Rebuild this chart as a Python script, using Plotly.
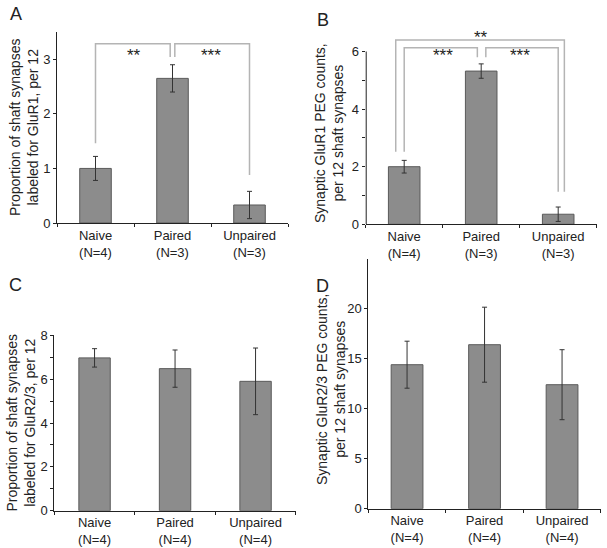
import plotly.graph_objects as go

# ---------------- data ----------------
categories = ["Naive", "Paired", "Unpaired"]
n_labels_A = ["(N=4)", "(N=3)", "(N=3)"]
n_labels_B = ["(N=4)", "(N=3)", "(N=3)"]
n_labels_C = ["(N=4)", "(N=4)", "(N=4)"]
n_labels_D = ["(N=4)", "(N=4)", "(N=4)"]

glur1_prop_mean = [1.0, 2.65, 0.33]
glur1_prop_err = [0.22, 0.25, 0.25]

glur1_peg_mean = [2.0, 5.32, 0.35]
glur1_peg_err = [0.22, 0.25, 0.25]

glur23_prop_mean = [6.97, 6.48, 5.9]
glur23_prop_err = [0.42, 0.85, 1.52]

glur23_peg_mean = [14.4, 16.4, 12.4]
glur23_peg_err = [2.35, 3.75, 3.5]

ticks_A = [0, 1, 2, 3]
ticks_B = [0, 2, 4, 6]
minor_B = [1, 3, 5]
ticks_C = [0, 2, 4, 6, 8]
minor_C = [1, 3, 5, 7]
ticks_D = [0, 5, 10, 15, 20]

sig_A = ["**", "***"]
sig_B = ["**", "***", "***"]

# ---------------- style ----------------
W, H = 607, 548
FONT = "Liberation Sans, Arial, sans-serif"
BAR_FILL = "#8c8c8c"
BAR_LINE = "#5a5a5a"
AX = "#222222"
BRACKET = "#b4b4b4"


def px_x(a, b):
    return [a / W, b / W]


def px_y(top, bottom):
    return [1 - bottom / H, 1 - top / H]


panels = [
    dict(key="", mean=glur1_prop_mean, err=glur1_prop_err, nl=n_labels_A,
         xd=px_x(57, 288), yd=px_y(32, 223), yr=[0, 3.5],
         tv=ticks_A, minor=None, bw=0.41,
         title="Proportion of shaft synapses<br>labeled for GluR1, per 12",
         tpos=(23.5, 127.5), showline=True),
    dict(key="2", mean=glur1_peg_mean, err=glur1_peg_err, nl=n_labels_B,
         xd=px_x(365.7, 596.7), yd=px_y(224.3 - 7 * 28.8, 224.3), yr=[0, 7],
         tv=ticks_B, minor=minor_B, bw=0.41,
         title="Synaptic GluR1 PEG counts,<br>per 12 shaft synapses",
         tpos=(329, 133), showline=False),
    dict(key="3", mean=glur23_prop_mean, err=glur23_prop_err, nl=n_labels_C,
         xd=px_x(54.3, 295.8), yd=px_y(335.3, 510.7), yr=[0, 8],
         tv=ticks_C, minor=minor_C, bw=0.39,
         title="Proportion of shaft synapses<br>labeled for GluR2/3, per 12",
         tpos=(20, 423.5), showline=True),
    dict(key="4", mean=glur23_peg_mean, err=glur23_peg_err, nl=n_labels_D,
         xd=px_x(368.3, 600.8), yd=px_y(258.7, 508.7), yr=[0, 25],
         tv=ticks_D, minor=None, bw=0.41,
         title="Synaptic GluR2/3 PEG counts,<br>per 12 shaft synapses",
         tpos=(331, 390), showline=True),
]

fig = go.Figure()
layout = dict(
    width=W, height=H, autosize=False,
    margin=dict(l=0, r=0, t=0, b=0),
    paper_bgcolor="white", plot_bgcolor="white",
    showlegend=False, template="none",
    font=dict(family=FONT, size=13, color=AX),
    shapes=[], annotations=[],
)

xpos = list(range(len(categories)))

for p in panels:
    k = p["key"]
    xa, ya = "x" + k, "y" + k
    fig.add_trace(go.Bar(
        x=xpos, y=p["mean"], width=p["bw"],
        marker=dict(color=BAR_FILL, line=dict(color=BAR_LINE, width=1)),
        error_y=dict(type="data", array=p["err"], visible=True,
                     color="#333333", thickness=1, width=2.5),
        xaxis=xa, yaxis=ya, hoverinfo="skip",
    ))
    ticktext = [f"{c}<br>{n}" for c, n in zip(categories, p["nl"])]
    layout["xaxis" + k] = dict(
        domain=p["xd"], anchor=ya, range=[-0.5, 2.5],
        tickmode="array", tickvals=xpos, ticktext=ticktext, ticks="",
        tickfont=dict(family=FONT, size=13, color=AX),
        showline=True, linecolor=AX, linewidth=1,
        showgrid=False, zeroline=False,
        minor=dict(tickmode="array", tickvals=[-0.5, 0.5, 1.5, 2.5],
                   ticks="outside", ticklen=3, tickcolor=AX, tickwidth=1),
        fixedrange=True,
    )
    yax = dict(
        domain=p["yd"], anchor=xa, range=p["yr"],
        tickmode="array", tickvals=p["tv"], ticks="outside", ticklen=3,
        tickcolor=AX, tickwidth=1,
        tickfont=dict(family=FONT, size=13, color=AX),
        showline=p["showline"], linecolor=AX, linewidth=1,
        showgrid=False, zeroline=False,
        fixedrange=True,
    )
    if p["minor"]:
        yax["minor"] = dict(tickmode="array", tickvals=p["minor"], ticks="outside",
                            ticklen=3, tickcolor=AX, tickwidth=1)
    layout["yaxis" + k] = yax
    tx, ty = p["tpos"]
    layout["annotations"].append(dict(
        text=p["title"], x=tx / W, y=1 - ty / H, xref="paper", yref="paper",
        showarrow=False, textangle=-90, xanchor="center", yanchor="middle",
        align="center", font=dict(family=FONT, size=14, color=AX),
    ))

# B: y-axis line stops at the top tick
layout["shapes"].append(dict(type="line", xref="x2", yref="y2", x0=-0.5, x1=-0.5,
                             y0=0, y1=ticks_B[-1], line=dict(color=AX, width=2)))

# significance brackets: (x_left, x_right, y_top, y_left_end, y_right_end)
brackets_A = [(0, 0.97, 3.285, 1.46, 3.04), (1.03, 2.0, 3.285, 3.04, 0.88)]
brackets_B = [(-0.11, 2.08, 6.40, 2.52, 1.13),
              (0, 0.95, 6.13, 2.52, 5.8),
              (1.06, 2.0, 6.13, 5.8, 1.13)]
star_pos_A = [(0.5, 3.07), (1.5, 3.07)]
star_pos_B = [(1.0, 6.5), (0.5, 5.86), (1.5, 5.86)]

for brs, xa, ya in [(brackets_A, "x", "y"), (brackets_B, "x2", "y2")]:
    for (x0, x1, yt, yl, yr_) in brs:
        fig.add_trace(go.Scatter(
            x=[x0, x0, x1, x1], y=[yl, yt, yt, yr_], mode="lines",
            line=dict(color=BRACKET, width=1.5), xaxis=xa, yaxis=ya,
            hoverinfo="skip",
        ))

for stars, pos, xa, ya in [(sig_A, star_pos_A, "x", "y"), (sig_B, star_pos_B, "x2", "y2")]:
    for s, (sx, sy) in zip(stars, pos):
        layout["annotations"].append(dict(
            text=s, x=sx, y=sy, xref=xa, yref=ya, showarrow=False,
            xanchor="center", yanchor="middle",
            font=dict(family=FONT, size=17, color=AX),
        ))

# panel letters
for letter, lx, ly in [("A", 8, 14), ("B", 315, 20), ("C", 7, 285), ("D", 314, 286)]:
    layout["annotations"].append(dict(
        text=letter, x=lx / W, y=1 - ly / H, xref="paper", yref="paper",
        showarrow=False, xanchor="left", yanchor="middle",
        font=dict(family=FONT, size=18, color=AX),
    ))

fig.update_layout(**layout)
fig.write_html("out.html", config={"displayModeBar": False},
               post_script="document.body.style.margin='0';document.body.style.padding='0';")
